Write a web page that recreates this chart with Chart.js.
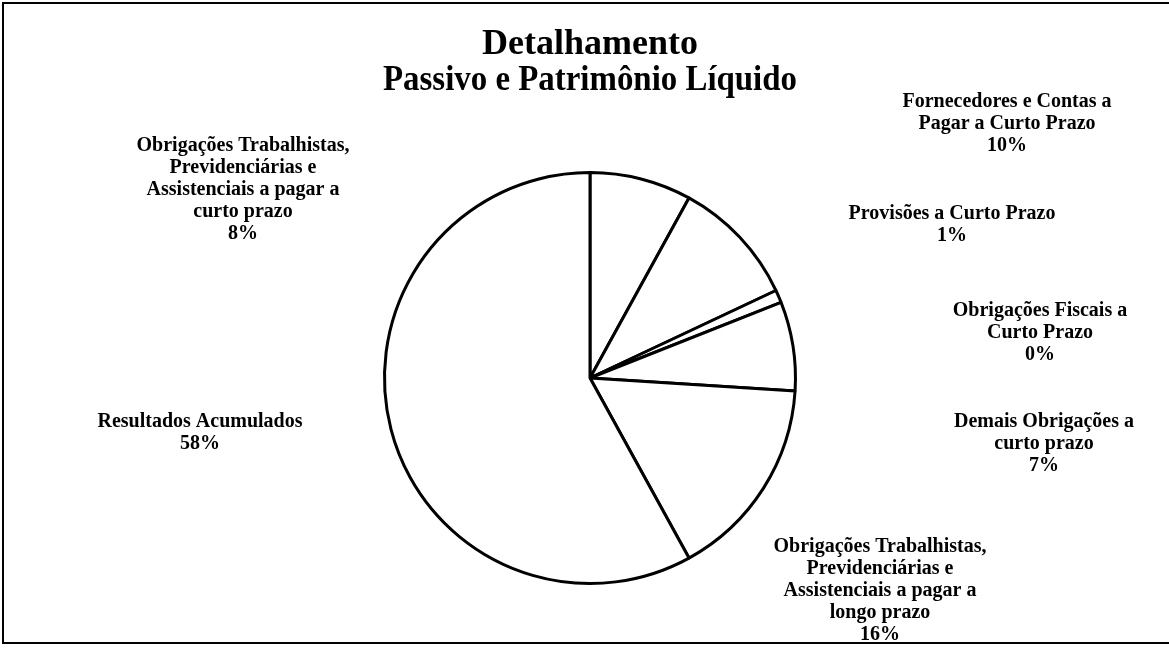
<!DOCTYPE html>
<html lang="pt-BR">
<head>
<meta charset="utf-8">
<title>Detalhamento Passivo e Patrimônio Líquido</title>
<script src="https://cdn.jsdelivr.net/npm/chart.js@4.4.1/dist/chart.umd.min.js"></script>
<style>
  html, body { margin: 0; padding: 0; background: #fff; }
  #wrap { position: relative; width: 1169px; height: 648px; }
</style>
</head>
<body>
<div id="wrap"><canvas id="pieChart" width="1169" height="648"></canvas></div>
<script>
// Composição do passivo (percentuais), no sentido horário a partir do topo
const categorias = [
    'Obrigações Trabalhistas, Previdenciárias e Assistenciais a pagar a curto prazo',
    'Fornecedores e Contas a Pagar a Curto Prazo',
    'Provisões a Curto Prazo',
    'Obrigações Fiscais a Curto Prazo',
    'Demais Obrigações a curto prazo',
    'Obrigações Trabalhistas, Previdenciárias e Assistenciais a pagar a longo prazo',
    'Resultados Acumulados'
];
const percentuais = [8, 10, 1, 0, 7, 16, 58];

// Rótulos quebrados em linhas, como aparecem ao redor da pizza
const linhasRotulo = [
    ['Obrigações Trabalhistas,', 'Previdenciárias e', 'Assistenciais a pagar a', 'curto prazo'],
    ['Fornecedores e Contas a', 'Pagar a Curto Prazo'],
    ['Provisões a Curto Prazo'],
    ['Obrigações Fiscais a', 'Curto Prazo'],
    ['Demais Obrigações a', 'curto prazo'],
    ['Obrigações Trabalhistas,', 'Previdenciárias e', 'Assistenciais a pagar a', 'longo prazo'],
    ['Resultados Acumulados']
];

// posição (centro da primeira linha) de cada bloco de rótulo
const posRotulo = [
    [243, 146], [1007, 102], [952, 214], [1040, 311], [1044, 422], [880, 547], [200, 422]
];

const serif = '"Liberation Serif", "Times New Roman", serif';

const rotulosPlugin = {
    id: 'rotulos',
    beforeDraw(chart) {
        const ctx = chart.ctx;
        ctx.save();
        ctx.fillStyle = '#fff';
        ctx.fillRect(0, 0, chart.width, chart.height);
        // moldura: esquerda, topo e base
        ctx.strokeStyle = '#000';
        ctx.lineWidth = 2;
        ctx.beginPath();
        ctx.moveTo(1169, 3);
        ctx.lineTo(3, 3);
        ctx.lineTo(3, 643);
        ctx.lineTo(1169, 643);
        ctx.stroke();
        ctx.restore();
    },
    afterDraw(chart) {
        const ctx = chart.ctx;
        ctx.save();
        ctx.fillStyle = '#000';
        ctx.font = 'bold 20px ' + serif;
        ctx.textAlign = 'center';
        ctx.textBaseline = 'middle';
        linhasRotulo.forEach((linhas, i) => {
            const [x, y] = posRotulo[i];
            const todas = linhas.concat([percentuais[i] + '%']);
            todas.forEach((t, k) => ctx.fillText(t, x, y + k * 22));
        });
        ctx.restore();
    }
};

new Chart(document.getElementById('pieChart'), {
    type: 'pie',
    data: {
        labels: categorias,
        datasets: [{
            data: percentuais,
            backgroundColor: '#fff',
            borderColor: '#000',
            borderWidth: 3
        }]
    },
    options: {
        responsive: false,
        animation: false,
        layout: {
            padding: { top: 0, bottom: 63, left: 383, right: 372 }
        },
        plugins: {
            legend: { display: false },
            tooltip: { enabled: false },
            title: {
                display: true,
                text: ['Detalhamento', 'Passivo e Patrimônio Líquido'],
                color: '#000',
                font: { family: serif, size: 36, weight: 'bold', lineHeight: '36px' },
                padding: { top: 27, bottom: 72 }
            }
        }
    },
    plugins: [rotulosPlugin]
});
</script>
</body>
</html>
